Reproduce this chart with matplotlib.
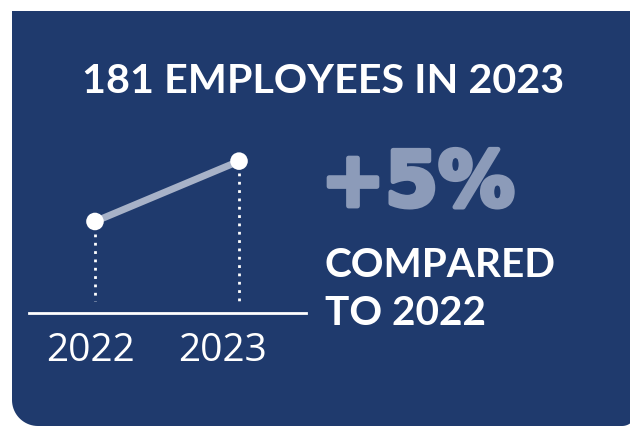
import numpy as np
import matplotlib
matplotlib.use("Agg")
import matplotlib.pyplot as plt
import matplotlib.patheffects as pe
from matplotlib.path import Path
from matplotlib.patches import PathPatch

# Headcount per year
years = [2022, 2023]
employees = [172, 181]
year_labels = ["2022", "2023"]
headline = "181 EMPLOYEES IN 2023"
change_text = "+5%"
sub_lines = ["COMPARED", "TO 2022"]

NAVY = "#1f3a6d"
LINE = "#a7b2c8"
ACCENT = "#8c9bb9"
W, H = 630, 427

fig = plt.figure(figsize=(W / 100, H / 100), dpi=100)
fig.patch.set_facecolor("white")

# Full-figure overlay in pixel units for the panel and text
bg = fig.add_axes([0, 0, 1, 1])
bg.set_xlim(0, W)
bg.set_ylim(H, 0)
bg.axis("off")

def panel_path(x0, y0, x1, y1, r_bl, r_br):
    verts = [(x0, y0), (x1, y0)]
    t = np.linspace(0, np.pi / 2, 20)
    cx, cy = x1 - r_br, y1 - r_br
    verts += [(cx + r_br * np.cos(a), cy + r_br * np.sin(a)) for a in t]
    cx, cy = x0 + r_bl, y1 - r_bl
    verts += [(cx + r_bl * np.cos(a), cy + r_bl * np.sin(a)) for a in t + np.pi / 2]
    verts.append((x0, y0))
    codes = [Path.MOVETO] + [Path.LINETO] * (len(verts) - 2) + [Path.CLOSEPOLY]
    return Path(verts, codes)

bg.add_patch(PathPatch(panel_path(12, 12, 636, 427, 26, 14),
                       facecolor=NAVY, edgecolor="none"))

bg.text(323, 93, headline, color="white", fontsize=29.7, fontweight="bold",
        family="Lato", ha="center", va="baseline")
big = bg.text(321, 207, change_text, color=ACCENT, fontsize=55, fontweight="bold",
              family="DejaVu Sans", ha="left", va="baseline")
big.set_path_effects([pe.withStroke(linewidth=3.5, foreground=ACCENT)])
for line, base in zip(sub_lines, [277, 325]):
    bg.text(325, base, line, color="white", fontsize=29.2, fontweight="bold",
            family="Lato", ha="left", va="baseline")

# Line chart area
px = lambda x, y, w, h: [x / W, 1 - (y + h) / H, w / W, h / H]
ax = fig.add_axes(px(29, 140, 277, 174))
ax.patch.set_alpha(0)
ax.set_xlim(2021.542, 2023.465)
ax.set_ylim(158.35, 184.3)
for s in ["top", "right", "left"]:
    ax.spines[s].set_visible(False)
ax.spines["bottom"].set_color("white")
ax.spines["bottom"].set_linewidth(2)
ax.set_yticks([])
ax.set_xticks([])

ax.plot(years, employees, color=LINE, lw=5, solid_capstyle="butt", zorder=2)
ax.scatter(years, employees, s=160, color="white", zorder=3, edgecolor="none")
gap_top, gap_bottom = 1.8, 1.8
for x, y in zip(years, employees):
    ax.plot([x, x], [y - gap_top, 158.35 + gap_bottom], color="white",
            lw=2, linestyle=(0, (1, 2)), zorder=1)

label_shift = [-4, -17]
for x, lab, dx in zip(years, year_labels, label_shift):
    ax.annotate(lab, (x, 158.35), xytext=(dx, -47), textcoords="offset pixels",
                color="white", fontsize=28, family="Open Sans",
                ha="center", va="baseline", annotation_clip=False)

fig.savefig("out.png", dpi=100, facecolor="white")
